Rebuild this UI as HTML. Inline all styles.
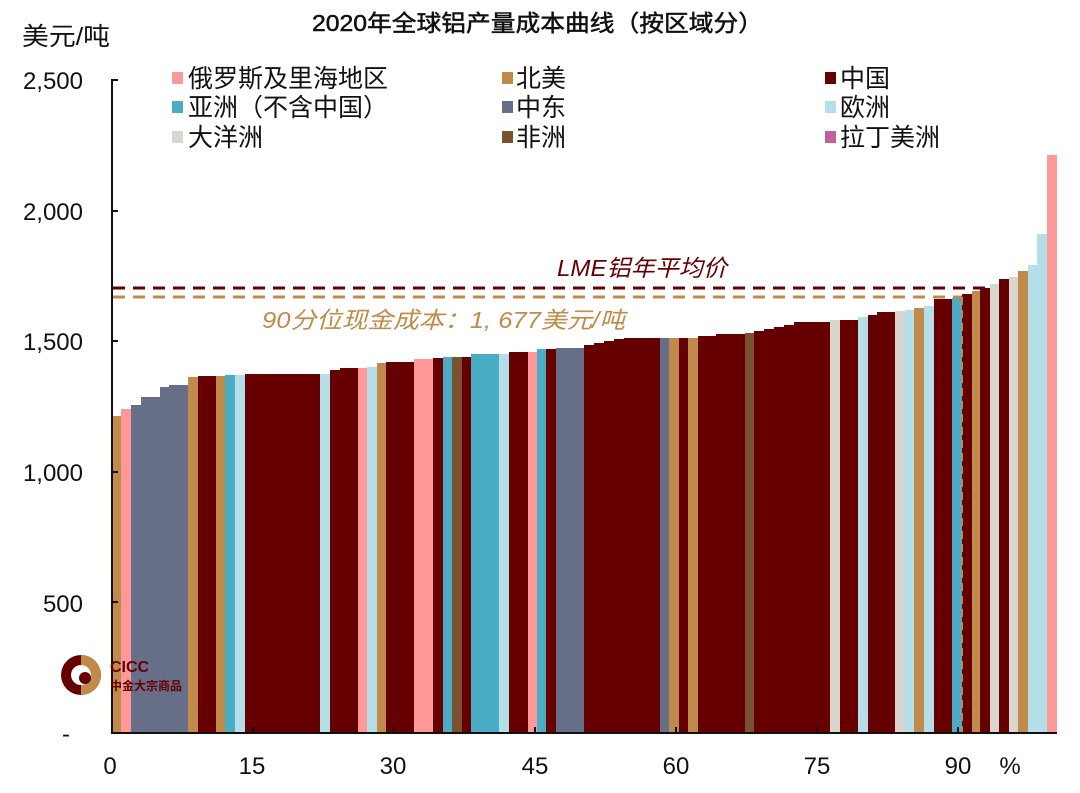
<!DOCTYPE html>
<html><head><meta charset="utf-8"><style>
body{margin:0;background:#fff}
svg text{font-family:"Liberation Sans","Noto Sans CJK SC",sans-serif}
</style></head><body>
<svg width="1080" height="788" viewBox="0 0 1080 788" xmlns="http://www.w3.org/2000/svg">
<rect width="1080" height="788" fill="#fff"/>
<text x="312" y="31" font-size="23" textLength="451" lengthAdjust="spacingAndGlyphs" fill="#111" stroke="#111" stroke-width="0.5">2020年全球铝产量成本曲线（按区域分）</text>
<text x="22" y="45" font-size="25" textLength="88" lengthAdjust="spacingAndGlyphs" fill="#111">美元/吨</text>
<g font-size="24" fill="#111" text-anchor="end">
<text x="83" y="89">2,500</text>
<text x="83" y="220">2,000</text>
<text x="83" y="350">1,500</text>
<text x="83" y="481">1,000</text>
<text x="83" y="612">500</text>
<text x="70" y="742">-</text>
</g>
<g font-size="24" fill="#111" text-anchor="middle">
<text x="110" y="774">0</text><text x="252" y="774">15</text><text x="393" y="774">30</text>
<text x="535" y="774">45</text><text x="676" y="774">60</text><text x="817" y="774">75</text>
<text x="958" y="774">90</text><text x="1010" y="774">%</text>
</g>
<g id="bars">
<rect x="113" y="416" width="8" height="317" fill="#c08b4a"/>
<rect x="121" y="409" width="10" height="324" fill="#ff9999"/>
<rect x="131" y="405" width="10" height="328" fill="#666e88"/>
<rect x="141" y="397" width="19" height="336" fill="#666e88"/>
<rect x="160" y="387" width="9" height="346" fill="#666e88"/>
<rect x="169" y="385" width="19" height="348" fill="#666e88"/>
<rect x="188" y="377" width="10" height="356" fill="#c08b4a"/>
<rect x="198" y="376" width="18" height="357" fill="#660000"/>
<rect x="216" y="376" width="9" height="357" fill="#c08b4a"/>
<rect x="225" y="375" width="10" height="358" fill="#4bacc6"/>
<rect x="235" y="375" width="10" height="358" fill="#b4dfe8"/>
<rect x="245" y="374" width="75" height="359" fill="#660000"/>
<rect x="320" y="374" width="10" height="359" fill="#b4dfe8"/>
<rect x="330" y="370" width="10" height="363" fill="#660000"/>
<rect x="340" y="368" width="18" height="365" fill="#660000"/>
<rect x="358" y="368" width="9" height="365" fill="#ff9999"/>
<rect x="367" y="367" width="10" height="366" fill="#b4dfe8"/>
<rect x="377" y="363" width="9" height="370" fill="#c08b4a"/>
<rect x="386" y="362" width="28" height="371" fill="#660000"/>
<rect x="414" y="359" width="19" height="374" fill="#ff9999"/>
<rect x="433" y="358" width="10" height="375" fill="#660000"/>
<rect x="443" y="357" width="9" height="376" fill="#4bacc6"/>
<rect x="452" y="357" width="10" height="376" fill="#7a5230"/>
<rect x="462" y="357" width="9" height="376" fill="#660000"/>
<rect x="471" y="354" width="28" height="379" fill="#4bacc6"/>
<rect x="499" y="354" width="10" height="379" fill="#b4dfe8"/>
<rect x="509" y="352" width="19" height="381" fill="#660000"/>
<rect x="528" y="352" width="9" height="381" fill="#ff9999"/>
<rect x="537" y="349" width="9" height="384" fill="#4bacc6"/>
<rect x="546" y="349" width="10" height="384" fill="#660000"/>
<rect x="556" y="348" width="28" height="385" fill="#666e88"/>
<rect x="584" y="345" width="10" height="388" fill="#660000"/>
<rect x="594" y="343" width="10" height="390" fill="#660000"/>
<rect x="604" y="341" width="10" height="392" fill="#660000"/>
<rect x="614" y="339" width="10" height="394" fill="#660000"/>
<rect x="624" y="338" width="36" height="395" fill="#660000"/>
<rect x="660" y="338" width="9" height="395" fill="#666e88"/>
<rect x="669" y="338" width="10" height="395" fill="#c08b4a"/>
<rect x="679" y="338" width="9" height="395" fill="#660000"/>
<rect x="688" y="338" width="10" height="395" fill="#c08b4a"/>
<rect x="698" y="336" width="18" height="397" fill="#660000"/>
<rect x="716" y="334" width="29" height="399" fill="#660000"/>
<rect x="745" y="333" width="9" height="400" fill="#7a5230"/>
<rect x="754" y="331" width="10" height="402" fill="#660000"/>
<rect x="764" y="329" width="10" height="404" fill="#660000"/>
<rect x="774" y="327" width="10" height="406" fill="#660000"/>
<rect x="784" y="325" width="10" height="408" fill="#660000"/>
<rect x="794" y="322" width="36" height="411" fill="#660000"/>
<rect x="830" y="320" width="10" height="413" fill="#d9d6cf"/>
<rect x="840" y="320" width="18" height="413" fill="#660000"/>
<rect x="858" y="317" width="10" height="416" fill="#b4dfe8"/>
<rect x="868" y="315" width="9" height="418" fill="#660000"/>
<rect x="877" y="312" width="18" height="421" fill="#660000"/>
<rect x="895" y="311" width="10" height="422" fill="#d9d6cf"/>
<rect x="905" y="310" width="9" height="423" fill="#b4dfe8"/>
<rect x="914" y="308" width="10" height="425" fill="#c08b4a"/>
<rect x="924" y="306" width="10" height="427" fill="#b4dfe8"/>
<rect x="934" y="299" width="18" height="434" fill="#660000"/>
<rect x="952" y="298" width="10" height="435" fill="#4bacc6"/>
<rect x="962" y="294" width="10" height="439" fill="#660000"/>
<rect x="972" y="291" width="8" height="442" fill="#c08b4a"/>
<rect x="980" y="288" width="10" height="445" fill="#660000"/>
<rect x="990" y="284" width="9" height="449" fill="#d9d6cf"/>
<rect x="999" y="279" width="10" height="454" fill="#660000"/>
<rect x="1009" y="277" width="9" height="456" fill="#d9d6cf"/>
<rect x="1018" y="271" width="10" height="462" fill="#c08b4a"/>
<rect x="1028" y="265" width="9" height="468" fill="#b4dfe8"/>
<rect x="1037" y="234" width="10" height="499" fill="#b4dfe8"/>
<rect x="1047" y="155" width="10" height="578" fill="#ff9999"/>
</g>
<line x1="962" y1="297" x2="962" y2="733" stroke="#c08b4a" stroke-width="2" stroke-dasharray="8,5"/>
<line x1="978" y1="297" x2="978" y2="733" stroke="#c08b4a" stroke-width="2" stroke-dasharray="8,5"/>
<line x1="113" y1="288" x2="990" y2="288" stroke="#660000" stroke-width="3" stroke-dasharray="12,8"/>
<line x1="113" y1="297" x2="962" y2="297" stroke="#c08b4a" stroke-width="3" stroke-dasharray="12,8"/>
<text x="557" y="276" font-size="23" font-style="italic" textLength="170" lengthAdjust="spacingAndGlyphs" fill="#660000">LME铝年平均价</text>
<text x="262" y="328" font-size="23" font-style="italic" textLength="363" lengthAdjust="spacingAndGlyphs" fill="#c08b4a">90分位现金成本：1, 677美元/吨</text>
<path d="M118,80 H112 V733 H1057" fill="none" stroke="#111" stroke-width="2"/>
<g stroke="#111" stroke-width="2">
<line x1="112" y1="211" x2="118" y2="211"/><line x1="112" y1="341" x2="118" y2="341"/>
<line x1="112" y1="472" x2="118" y2="472"/><line x1="112" y1="602" x2="118" y2="602"/>
<line x1="253" y1="733" x2="253" y2="727"/><line x1="394" y1="733" x2="394" y2="727"/>
<line x1="535" y1="733" x2="535" y2="727"/><line x1="676" y1="733" x2="676" y2="727"/>
<line x1="817" y1="733" x2="817" y2="727"/><line x1="958" y1="733" x2="958" y2="727"/>
</g>
<g font-size="25" fill="#111">
<rect x="172" y="72" width="11" height="12" fill="#ff9999"/><text x="188" y="87">俄罗斯及里海地区</text>
<rect x="172" y="101" width="11" height="12" fill="#4bacc6"/><text x="188" y="116">亚洲（不含中国）</text>
<rect x="172" y="131" width="11" height="12" fill="#d9d6cf"/><text x="188" y="146">大洋洲</text>
<rect x="502" y="72" width="11" height="12" fill="#c08b4a"/><text x="516" y="87">北美</text>
<rect x="502" y="101" width="11" height="12" fill="#666e88"/><text x="516" y="116">中东</text>
<rect x="502" y="131" width="11" height="12" fill="#7a5230"/><text x="516" y="146">非洲</text>
<rect x="825" y="72" width="11" height="12" fill="#660000"/><text x="840" y="87">中国</text>
<rect x="825" y="101" width="11" height="12" fill="#b4dfe8"/><text x="840" y="116">欧洲</text>
<rect x="825" y="131" width="11" height="12" fill="#c0619e"/><text x="840" y="146">拉丁美洲</text>
</g>
<g>
<circle cx="81" cy="675" r="20" fill="#660000"/>
<path d="M81,655 A20,20 0 0 1 81,695 Z" fill="#c08b4a"/>
<circle cx="81" cy="675" r="10" fill="#fff"/>
<circle cx="85" cy="678" r="6" fill="#660000"/>
<text x="110" y="672" font-size="16" font-weight="bold" fill="#660000">CICC</text>
<text x="110" y="690" font-size="12" font-weight="bold" fill="#660000">中金大宗商品</text>
</g>
</svg>
</body></html>
